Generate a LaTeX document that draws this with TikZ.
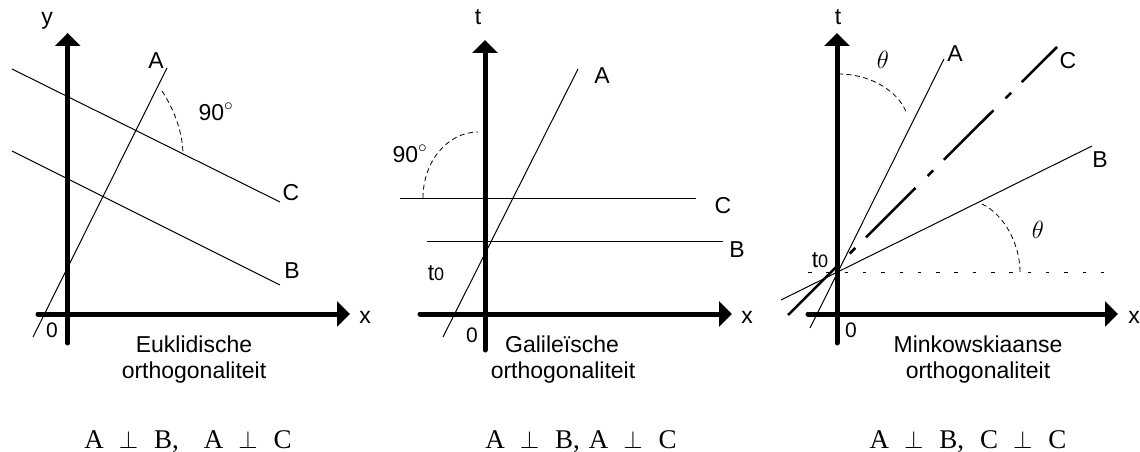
\documentclass[tikz,border=0pt]{standalone}
\usepackage{fontspec}
\setmainfont{Liberation Sans}
\newfontfamily\timesf{Liberation Serif}
\usetikzlibrary{arrows.meta}
\begin{document}
\begin{tikzpicture}[x=1pt,y=-1pt,
  axis/.style={line width=5pt, line cap=round, -{Triangle[width=25pt,length=13pt]}},
  thinline/.style={line width=1pt},
  arcdash/.style={line width=0.8pt, dash pattern=on 5pt off 3.5pt},
  hdash/.style={line width=0.8pt, dash pattern=on 3.5pt off 14.8pt},
  dashdotC/.style={line width=2.5pt, dash pattern=on 70pt off 17pt on 8pt off 15pt},
  lbl/.style={inner sep=0pt, anchor=base, font=\fontsize{23}{23}\selectfont},
  zero/.style={inner sep=0pt, anchor=base, font=\fontsize{21}{21}\selectfont},
  formula/.style={inner sep=0pt, anchor=base, font=\timesf\fontsize{27}{27}\selectfont},
  thetalbl/.style={inner sep=0pt, anchor=base, font=\fontsize{25}{25}\selectfont},
]
\useasboundingbox (0,0) rectangle (1140,452);

% ---------- Panel 1: Euklidisch ----------
\coordinate (A1s) at (33,337);  \coordinate (A1e) at (167,68);
\coordinate (C1s) at (12,69);   \coordinate (C1e) at (280,202);
\coordinate (B1s) at (12,151);  \coordinate (B1e) at (280,285);
\draw[thinline] (A1s) -- (A1e);
\draw[thinline] (C1s) -- (C1e);
\draw[thinline] (B1s) -- (B1e);
\coordinate (arc1s) at (162,91); \coordinate (arc1e) at (183,155);
\draw[arcdash] (arc1s) .. controls (170,103) and (183,128) .. (arc1e);
\coordinate (y1b) at (67.7,343); \coordinate (y1t) at (67.7,33);
\coordinate (x1l) at (38,314);   \coordinate (x1r) at (350,314);
\draw[axis] (y1b) -- (y1t);
\draw[axis] (x1l) -- (x1r);
\node[lbl] (ly1) at (47,25) {y};
\node[lbl] (lx1) at (365,323) {x};
\node[zero] (l01) at (52,337) {0};
\node[lbl] (lA1) at (156,69) {A};
\node[lbl] (lC1) at (291,200) {C};
\node[lbl] (lB1) at (292,278) {B};
\node[lbl] (l901) at (216,120) {90$^\circ$};
\node[lbl] (cap1a) at (194,352) {Euklidische};
\node[lbl] (cap1b) at (194,378) {orthogonaliteit};
\node[formula] (f1) at (188,448) {A\hspace{15pt}$\perp$\hspace{16pt}B,\hspace{25pt}A\hspace{15pt}$\perp$\hspace{16pt}C};

% ---------- Panel 2: Galileisch ----------
\coordinate (A2s) at (443,337); \coordinate (A2e) at (578,69);
\coordinate (C2s) at (400,198); \coordinate (C2e) at (696,198);
\coordinate (B2s) at (427,241); \coordinate (B2e) at (723,241);
\draw[thinline] (A2s) -- (A2e);
\draw[thinline] (C2s) -- (C2e);
\draw[thinline] (B2s) -- (B2e);
\coordinate (arc2s) at (423,198); \coordinate (arc2e) at (478,132);
\draw[arcdash] (arc2s) .. controls (423,161.6) and (447.6,132) .. (arc2e);
\coordinate (y2b) at (485,350); \coordinate (y2t) at (485,40);
\coordinate (x2l) at (420,314); \coordinate (x2r) at (732,314);
\draw[axis] (y2b) -- (y2t);
\draw[axis] (x2l) -- (x2r);
\node[lbl] (lt2) at (478,25) {t};
\node[lbl] (lx2) at (747,323) {x};
\node[zero] (l02) at (472,342) {0};
\node[lbl] (lA2) at (602,83) {A};
\node[lbl] (lC2) at (723,213) {C};
\node[lbl] (lB2) at (737,257) {B};
\node[lbl] (l902) at (410,162) {90$^\circ$};
\node[lbl] (lt02) at (436,280) {t{\fontsize{18}{18}\selectfont 0}};
\node[lbl] (cap2a) at (562,352) {Galileïsche};
\node[lbl] (cap2b) at (563,378) {orthogonaliteit};
\node[formula] (f2) at (581,448) {A\hspace{15pt}$\perp$\hspace{16pt}B,\hspace{9pt}A\hspace{15pt}$\perp$\hspace{16pt}C};

% ---------- Panel 3: Minkowski ----------
\coordinate (h3l) at (808,272); \coordinate (h3r) at (1108,272);
\draw[hdash] (h3l) -- (h3r);
\coordinate (A3s) at (810,328); \coordinate (A3e) at (944,59);
\coordinate (B3s) at (781,300); \coordinate (B3e) at (1092,146);
\coordinate (C3s) at (788,315); \coordinate (C3e) at (1057,47);
\draw[thinline] (A3s) -- (A3e);
\draw[thinline] (B3s) -- (B3e);
\draw[dashdotC] (C3s) -- (C3e);
\coordinate (arc3s) at (838,74); \coordinate (arc3e) at (906,112);
\draw[arcdash] (arc3s) .. controls (875,74) and (900,95) .. (arc3e);
\coordinate (arc4s) at (982,204); \coordinate (arc4e) at (1020,272);
\draw[arcdash] (arc4s) .. controls (1005,215) and (1020,245) .. (arc4e);
\coordinate (y3b) at (837,343); \coordinate (y3t) at (837,33);
\coordinate (x3l) at (808,314); \coordinate (x3r) at (1118,314);
\draw[axis] (y3b) -- (y3t);
\draw[axis] (x3l) -- (x3r);
\node[lbl] (lt3) at (838,25) {t};
\node[lbl] (lx3) at (1134,323) {x};
\node[zero] (l03) at (851,337) {0};
\node[lbl] (lA3) at (955,62) {A};
\node[lbl] (lC3) at (1068,68) {C};
\node[lbl] (lB3) at (1100,167) {B};
\node[thetalbl] (th1) at (883,68) {$\theta$};
\node[thetalbl] (th2) at (1038,238) {$\theta$};
\node[lbl] (lt03) at (820,267) {t{\fontsize{18}{18}\selectfont 0}};
\node[lbl] (cap3a) at (978,352) {Minkowskiaanse};
\node[lbl] (cap3b) at (978,378) {orthogonaliteit};
\node[formula] (f3) at (968,448) {A\hspace{15pt}$\perp$\hspace{16pt}B,\hspace{16pt}C\hspace{15pt}$\perp$\hspace{16pt}C};
\end{tikzpicture}
\end{document}
